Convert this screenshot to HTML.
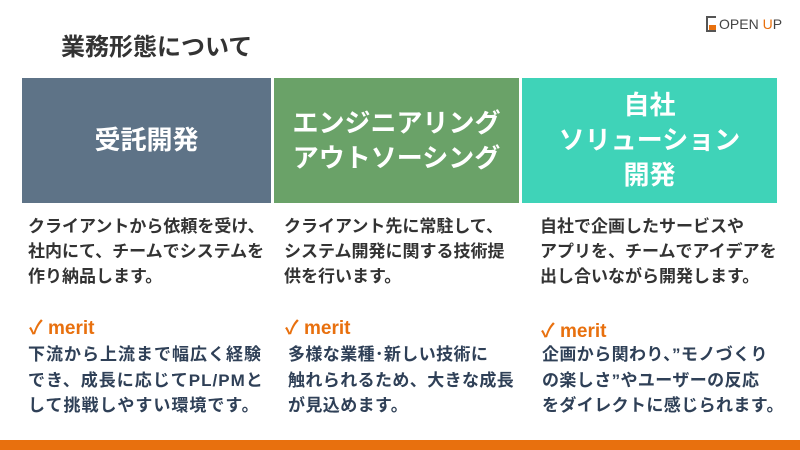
<!DOCTYPE html>
<html><head><meta charset="utf-8"><style>
*{margin:0;padding:0;box-sizing:border-box}
body{width:800px;height:450px;background:#fff;position:relative;overflow:hidden;font-family:"Liberation Sans","Noto Sans CJK JP",sans-serif;font-weight:bold}
.t{position:absolute;left:61px;top:27px;font-size:24px;color:#333}
.logo{position:absolute;left:706px;top:16px;font-size:14px;color:#444;font-weight:normal}
.box{position:absolute;top:78px;height:125px;color:#fff;display:flex;align-items:center;justify-content:center;text-align:center;font-size:26px;line-height:35px}
.p{position:absolute;font-size:17px;line-height:25px;color:#333;white-space:nowrap}
.m{position:absolute;font-size:19px;color:#e8700e}
.q{position:absolute;font-size:17px;line-height:25.5px;color:#2f4057;letter-spacing:0.4px;white-space:nowrap}
.bar{position:absolute;left:0;top:440px;width:800px;height:10px;background:#e8700e}
</style></head><body>
<div class="t">業務形態について</div>
<div class="logo"><span style="display:inline-block;width:10px;height:16px;border:2px solid #555;border-right:none;vertical-align:-3px;margin-right:3px;position:relative"><span style="position:absolute;left:1px;bottom:0;width:7px;height:5px;background:#e8700e"></span></span>OPEN <span style="color:#e8700e">U</span>P</div>
<div class="box" style="left:22px;width:249px;background:#5e7387">受託開発</div>
<div class="box" style="left:274px;width:245px;background:#6aa268">エンジニアリング<br>アウトソーシング</div>
<div class="box" style="left:522px;width:255px;background:#3fd3b8">自社<br>ソリューション<br>開発</div>
<div class="p" style="left:28px;top:214px">クライアントから依頼を受け、<br>社内にて、チームでシステムを<br>作り納品します。</div>
<div class="p" style="left:284px;top:214px">クライアント先に常駐して、<br>システム開発に関する技術提<br>供を行います。</div>
<div class="p" style="left:540px;top:214px">自社で企画したサービスや<br>アプリを、チームでアイデアを<br>出し合いながら開発します。</div>
<div class="m" style="left:29px;top:313px">✓ merit</div>
<div class="m" style="left:285px;top:313px">✓ merit</div>
<div class="m" style="left:541px;top:316px">✓ merit</div>
<div class="q" style="left:28px;top:342px;letter-spacing:1px">下流から上流まで幅広く経験<br>でき、成長に応じてPL/PMと<br>して挑戦しやすい環境です。</div>
<div class="q" style="left:288px;top:342px">多様な業種･新しい技術に<br>触れられるため、大きな成長<br>が見込めます。</div>
<div class="q" style="left:542px;top:342px">企画から関わり、”モノづくり<br>の楽しさ”やユーザーの反応<br>をダイレクトに感じられます。</div>
<div class="bar"></div>
</body></html>
